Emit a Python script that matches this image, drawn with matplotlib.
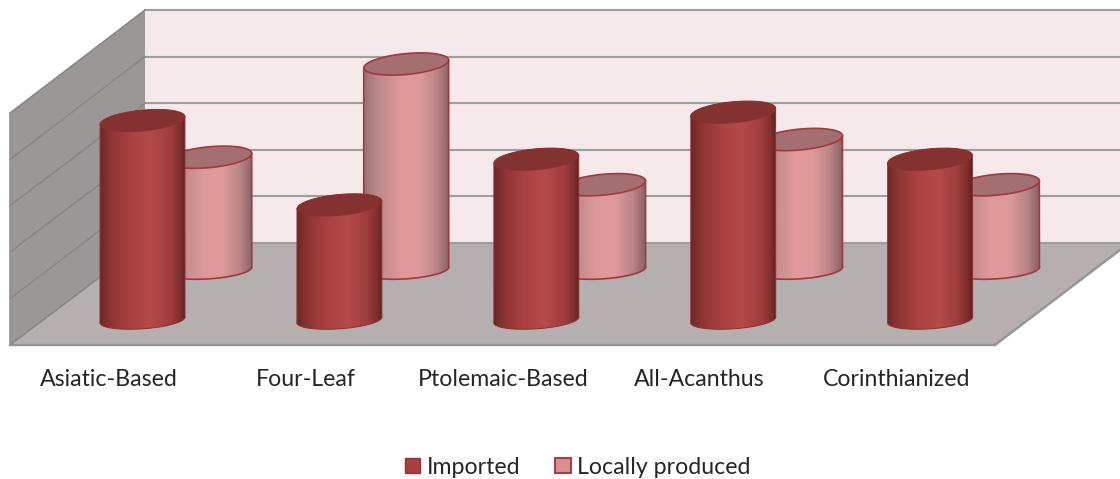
import numpy as np
import matplotlib
matplotlib.use('Agg')
from matplotlib import pyplot as plt
from matplotlib.colors import LinearSegmentedColormap
from matplotlib.patches import Patch, Polygon
from matplotlib.transforms import Affine2D

categories = ['Asiatic-Based', 'Four-Leaf', 'Ptolemaic-Based', 'All-Acanthus', 'Corinthianized']
imported = [4.28, 2.47, 3.45, 4.46, 3.45]
local = [2.42, 4.42, 1.83, 2.80, 1.83]

W, H = 1120, 479
PX_X = 196.9    # pixels per category
PX_Y = 46.6     # pixels per value unit
X0, Y0 = 142.5, 320.0   # pixel of first category, value 0

fig = plt.figure(figsize=(W / 100, H / 100), dpi=100, facecolor='white')
plt.rcParams['font.family'] = ['Lato', 'DejaVu Sans']
ax = fig.add_axes([0, 0, 1, 1])
xlim = (-X0 / PX_X, (W - X0) / PX_X)
ylim = ((Y0 - H) / PX_Y, Y0 / PX_Y)
ax.patch.set_visible(False)

# pixel coordinates for the chart box (walls, floor)
box = Affine2D().scale(1 / W, -1 / H).translate(0, 1) + fig.transFigure
GRID = '#9e9e9e'
ax.add_patch(Polygon([(145, 10), (1120, 10), (1120, 243), (145, 243)], fc='#f5e9eb', ec='none', transform=box, zorder=1))
ax.add_patch(Polygon([(10, 113), (145, 10), (145, 243), (10, 345)], fc='#9b9796', ec='none', transform=box, zorder=1))
ax.add_patch(Polygon([(10, 345), (145, 243), (1120, 243), (1120, 250), (995, 345)], fc='#b5afb0', ec='none', transform=box, zorder=1))
for k in range(6):
    yb = 10 + k * 46.6
    ax.plot([145, 1120], [yb, yb], color=GRID, lw=1.5, transform=box, zorder=2)
    ax.plot([10, 145], [113 + k * 46.4, yb], color='#868686', lw=1.1, transform=box, zorder=2)
ax.plot([10, 10], [113, 345], color='#8e8e8e', lw=1.1, transform=box, zorder=2)
ax.plot([10, 995, 1120], [345, 345, 250], color='#959595', lw=1.7, transform=box, zorder=2)

imp_cmap = LinearSegmentedColormap.from_list('imp', [
    (0, '#6e2727'), (0.12, '#8c3434'), (0.35, '#aa4141'), (0.6, '#b44a4a'),
    (0.82, '#a03c3c'), (0.94, '#7c2d2d'), (1, '#5d2020')])
loc_cmap = LinearSegmentedColormap.from_list('loc', [
    (0, '#9a7475'), (0.15, '#bd8788'), (0.45, '#e09a9c'), (0.65, '#de999b'),
    (0.85, '#b98586'), (1, '#876263')])

A = 42.6    # ellipse half width in pixels
TOP_B, TOP_TILT = 10.4, np.radians(5.5)
BASE_B, BASE_TILT = 8.8, np.radians(4.0)


def ring(cx, y_val, t, b, tilt):
    # rotated ellipse points in data units, t in radians
    dx = A * np.cos(t) * np.cos(tilt) + b * np.sin(t) * np.sin(tilt)
    dy = b * np.sin(t) * np.cos(tilt) - A * np.cos(t) * np.sin(tilt)
    return cx + dx / PX_X, y_val - dy / PX_Y


def cylinder(cx, y0, value, cmap, top, edge, lw, z):
    y1 = y0 + value
    t_top = np.arctan2(TOP_B * np.sin(TOP_TILT), A * np.cos(TOP_TILT))
    t_base = np.arctan2(BASE_B * np.sin(BASE_TILT), A * np.cos(BASE_TILT))
    xb, yb = ring(cx, y0, t_base + np.linspace(0, np.pi, 60), BASE_B, BASE_TILT)
    xt, yt = ring(cx, y1, t_top + np.linspace(np.pi, 2 * np.pi, 60), TOP_B, TOP_TILT)
    body = Polygon(np.column_stack([np.r_[xb, xt], np.r_[yb, yt]]), fc='none', ec='none', zorder=z)
    ax.add_patch(body)
    grad = np.linspace(0, 1, 256).reshape(1, -1)
    half = A / PX_X
    im = ax.imshow(grad, cmap=cmap, aspect='auto', interpolation='bilinear',
                   extent=(cx - half, cx + half, y0 - 1, y1 + 1), zorder=z)
    im.set_clip_path(body)
    ax.plot(xb, yb, color=edge, lw=lw, zorder=z + 0.1)
    ax.plot([xb[0], xt[-1]], [yb[0], yt[-1]], color=edge, lw=lw, zorder=z + 0.1)
    ax.plot([xb[-1], xt[0]], [yb[-1], yt[0]], color=edge, lw=lw, zorder=z + 0.1)
    xe, ye = ring(cx, y1, np.linspace(0, 2 * np.pi, 120), TOP_B, TOP_TILT)
    ax.fill(xe, ye, fc=top, ec=edge, lw=lw, zorder=z + 0.2)


idx = np.arange(len(categories))
LOCAL_DX = 66.8 / PX_X
LOCAL_DY = 50.0 / PX_Y
for i in idx:
    cylinder(i + LOCAL_DX, LOCAL_DY, local[i], loc_cmap, '#a46f70', '#a3393e', 1.2, 3)
for i in idx:
    cylinder(i, 0, imported[i], imp_cmap, '#843131', '#8e2f30', 0.7, 5)

ax.set_xlim(xlim)
ax.set_ylim(ylim)
ax.set_yticks([])
ax.set_xticks(idx - 0.17)
ax.set_xticklabels(categories)
ax.tick_params(axis='x', length=0, pad=8.5, labelsize=16.7, labelcolor='#262626')
ax.spines['bottom'].set_position(('data', (Y0 - 357) / PX_Y))
for s in ax.spines.values():
    s.set_visible(False)

handles = [Patch(fc='#a94040', ec='#8e3333', label='Imported'),
           Patch(fc='#d69090', ec='#a64045', lw=1.5, label='Locally produced')]
fig.legend(handles=handles, ncol=2, frameon=False, fontsize=16.7, labelcolor='#262626',
           loc='center', bbox_to_anchor=(578 / W, 1 - 467 / H), handlelength=0.65, handleheight=0.65,
           handletextpad=0.3, columnspacing=1.5)

fig.savefig('out.png', dpi=100)
